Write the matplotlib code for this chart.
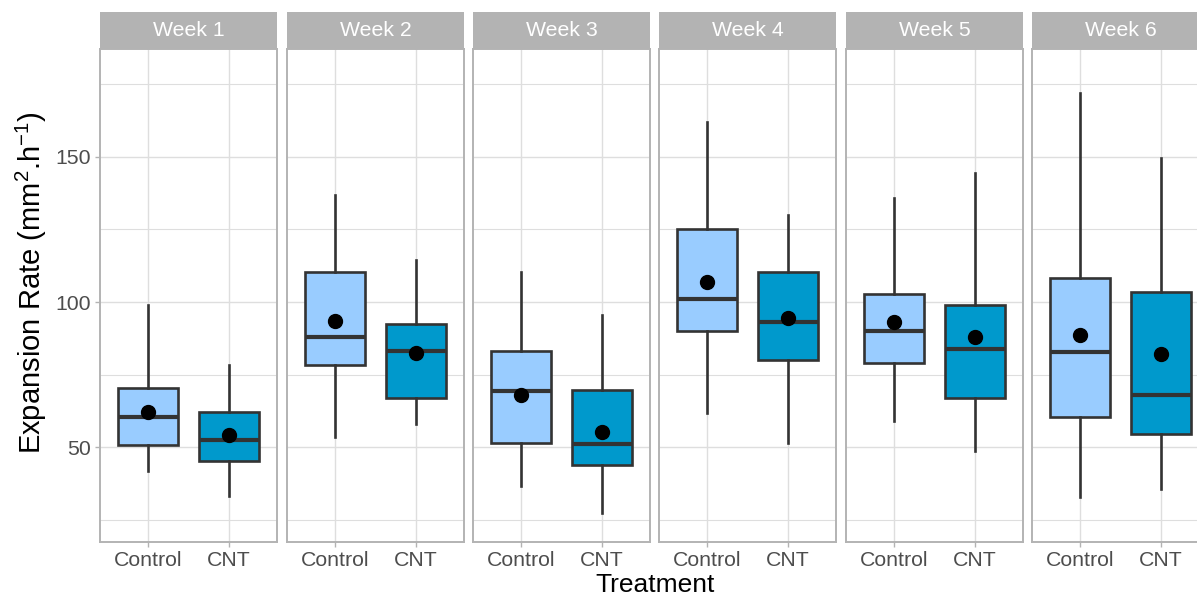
import matplotlib
matplotlib.use("Agg")
import matplotlib.pyplot as plt

plt.rcParams['font.family'] = ['Liberation Sans', 'DejaVu Sans']
plt.rcParams['mathtext.fontset'] = 'custom'
plt.rcParams['mathtext.rm'] = 'Liberation Sans'
plt.rcParams['mathtext.it'] = 'Liberation Sans'

weeks = ["Week 1", "Week 2", "Week 3", "Week 4", "Week 5", "Week 6"]
treatments = ["Control", "CNT"]

# per week: [Control, CNT]
whisker_low = [[41.9, 33.1], [53.4, 57.9], [36.7, 27.3], [61.9, 51.6], [58.9, 48.6], [32.8, 35.8]]
q1 =          [[50.7, 45.4], [78.2, 66.8], [51.4, 43.8], [90.1, 80.1], [79.1, 67.0], [60.5, 54.7]]
median =      [[60.5, 52.6], [88.1, 83.0], [69.5, 51.1], [100.9, 93.1], [90.0, 83.9], [82.8, 67.9]]
q3 =          [[70.3, 62.1], [110.4, 92.3], [83.3, 69.7], [125.3, 110.5], [102.9, 99.0], [108.3, 103.4]]
whisker_high = [[99.1, 78.3], [136.7, 114.5], [110.2, 95.5], [162.0, 130.0], [135.7, 144.4], [171.9, 149.5]]
means =       [[62.3, 54.1], [93.6, 82.3], [68.1, 55.4], [107.0, 94.6], [93.3, 87.9], [88.5, 82.2]]

fill_colors = ["#99CCFF", "#0099CC"]
y_ticks = [50, 100, 150]
y_minor = [25, 75, 125, 175]

W, H = 1197, 597
fig = plt.figure(figsize=(W / 100, H / 100), dpi=100)

panel_lefts = [100, 287, 473, 659, 846, 1032]
panel_w = 177
panel_top, panel_bot = 49, 542
strip_top = 12

grey70 = "#B3B3B3"
grey87 = "#DEDEDE"
grey30 = "#4D4D4D"
dark = "#333333"

for i, wk in enumerate(weeks):
    left = panel_lefts[i] / W
    ax = fig.add_axes([left, (H - panel_bot) / H, panel_w / W, (panel_bot - panel_top) / H])
    stats = []
    for j in range(2):
        stats.append(dict(med=median[i][j], q1=q1[i][j], q3=q3[i][j],
                          whislo=whisker_low[i][j], whishi=whisker_high[i][j],
                          mean=means[i][j], fliers=[]))
    bp = ax.bxp(stats, positions=[1, 2], widths=0.75, patch_artist=True,
                showmeans=True, showcaps=False, showfliers=False,
                boxprops=dict(edgecolor=dark, linewidth=1.9),
                medianprops=dict(color=dark, linewidth=3.0, solid_capstyle='butt'),
                whiskerprops=dict(color=dark, linewidth=1.9),
                meanprops=dict(marker='o', markerfacecolor='black', markeredgecolor='black',
                               markersize=10))
    for patch, c in zip(bp['boxes'], fill_colors):
        patch.set_facecolor(c)
    ax.set_xlim(0.4, 2.6)
    ax.set_ylim(17.4, 187.1)
    ax.set_xticks([1, 2])
    ax.set_xticklabels(treatments, fontsize=15.3, color=grey30)
    ax.set_yticks(y_ticks)
    ax.set_yticks(y_minor, minor=True)
    ax.grid(True, which='major', color=grey87, linewidth=1.0)
    ax.grid(True, which='minor', axis='y', color=grey87, linewidth=0.8)
    ax.set_axisbelow(True)
    ax.tick_params(axis='x', which='major', length=3.5, width=1.0, color=grey70, pad=3)
    ax.tick_params(axis='y', which='minor', length=0)
    if i == 0:
        ax.set_yticklabels([str(t) for t in y_ticks], fontsize=15.3, color=grey30)
        ax.tick_params(axis='y', which='major', length=3.5, width=1.0, color=grey70, pad=3)
    else:
        ax.tick_params(axis='y', which='major', length=0, labelleft=False)
    for sp in ax.spines.values():
        sp.set_color(grey70)
        sp.set_linewidth(1.4)

    sax = fig.add_axes([left, (H - panel_top) / H, panel_w / W, (panel_top - strip_top) / H])
    sax.set_facecolor(grey70)
    sax.set_xticks([])
    sax.set_yticks([])
    for sp in sax.spines.values():
        sp.set_visible(False)
    sax.text(0.5, 0.5, wk, ha='center', va='center', color='white', fontsize=15.3,
             transform=sax.transAxes)

fig.text(31 / W, (H - 283) / H, r'Expansion Rate (mm$^{2}$.h$^{-1}$)', rotation=90,
         ha='center', va='center', fontsize=21, color='black')
fig.text(655 / W, 12 / H, 'Treatment', ha='center', va='center', fontsize=19, color='black')

fig.savefig("out.png", dpi=100, facecolor='white')
